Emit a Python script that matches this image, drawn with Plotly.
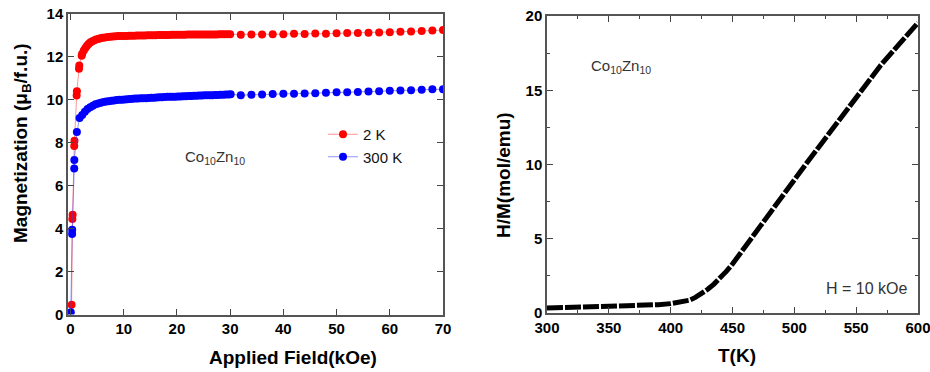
import plotly.graph_objects as go

# ---------------- data: left panel (M vs H) ----------------
field_2k = [0.2, 0.35, 0.4, 0.7, 0.75, 1.15, 1.2, 1.6, 1.65, 2.1, 2.2, 2.5, 2.8, 3.1, 3.4, 3.7,
            4.0, 4.4, 4.8, 5.2, 5.6, 6.0, 6.5, 7.0, 7.5, 8.0, 8.5, 9.0, 9.5,
            10.0, 10.5, 11.0, 11.5, 12.0, 12.5, 13.0, 13.5, 14.0, 14.5, 15.0, 15.5, 16.0, 16.5,
            17.0, 17.5, 18.0, 18.5, 19.0, 19.5, 20.0, 20.5, 21.0, 21.5, 22.0, 22.5, 23.0, 23.5,
            24.0, 24.5, 25.0, 25.5, 26.0, 26.5, 27.0, 27.5, 28.0, 28.5, 29.0, 29.5, 30.0,
            32, 34, 36, 38, 40, 42, 44, 46, 48, 50, 52, 54, 56, 58, 60, 62, 64, 66, 68, 70]
mag_2k = [0.45, 4.45, 4.65, 7.85, 8.1, 10.2, 10.4, 11.45, 11.6, 12.05, 12.15, 12.3, 12.42, 12.52, 12.6, 12.67,
          12.72, 12.77, 12.81, 12.84, 12.87, 12.89, 12.91, 12.93, 12.94, 12.95, 12.96, 12.97, 12.97,
          12.98, 12.98, 12.99, 12.99, 12.99, 13.0, 13.0, 13.0, 13.0, 13.01, 13.01, 13.01, 13.01, 13.02,
          13.02, 13.02, 13.02, 13.02, 13.03, 13.03, 13.03, 13.03, 13.03, 13.03, 13.04, 13.04, 13.04, 13.04,
          13.04, 13.04, 13.05, 13.05, 13.05, 13.05, 13.05, 13.05, 13.06, 13.06, 13.06, 13.06, 13.06,
          13.03, 13.05, 13.05, 13.06, 13.06, 13.08, 13.07, 13.09, 13.08, 13.10, 13.11, 13.11, 13.13, 13.14,
          13.15, 13.17, 13.19, 13.21, 13.23, 13.25]

field_300k = [0.05, 0.3, 0.32, 0.7, 0.72, 1.2, 1.7, 2.2, 2.7, 3.2, 3.7, 4.2, 4.7, 5.2, 5.7, 6.2, 6.7,
              7.2, 7.7, 8.2, 8.7, 9.2, 9.7, 10.2, 10.7, 11.2, 11.7, 12.2, 12.7, 13.2, 13.7, 14.2, 14.7,
              15.2, 15.7, 16.2, 16.7, 17.2, 17.7, 18.2, 18.7, 19.2, 19.7, 20.2, 20.7, 21.2, 21.7, 22.2,
              22.7, 23.2, 23.7, 24.2, 24.7, 25.2, 25.7, 26.2, 26.7, 27.2, 27.7, 28.2, 28.7, 29.2, 29.7, 30.1,
              32, 34, 36, 38, 40, 42, 44, 46, 48, 50, 52, 54, 56, 58, 60, 62, 64, 66, 68, 70]
mag_300k = [0.1, 3.75, 3.95, 6.8, 7.2, 8.5, 9.15, 9.3, 9.45, 9.57, 9.66, 9.73, 9.79, 9.83, 9.87, 9.9, 9.92,
            9.94, 9.96, 9.97, 9.99, 10.0, 10.01, 10.02, 10.03, 10.04, 10.05, 10.06, 10.06, 10.07, 10.08, 10.08, 10.09,
            10.1, 10.1, 10.11, 10.12, 10.12, 10.13, 10.14, 10.14, 10.15, 10.15, 10.16, 10.16, 10.17, 10.17, 10.18,
            10.18, 10.19, 10.19, 10.2, 10.2, 10.21, 10.21, 10.22, 10.22, 10.23, 10.23, 10.24, 10.24, 10.25, 10.25, 10.26,
            10.22, 10.24, 10.25, 10.27, 10.28, 10.29, 10.3, 10.31, 10.33, 10.35, 10.36, 10.37, 10.39, 10.4,
            10.42, 10.44, 10.45, 10.47, 10.49, 10.5]

series_names = ["2 K", "300 K"]

# ---------------- data: right panel (H/M vs T) ----------------
temp_k = [300, 310, 320, 330, 340, 350, 360, 370, 380, 390, 400, 405, 410, 415, 420, 425, 430, 435,
          440, 445, 450, 460, 470, 480, 490, 500, 510, 520, 530, 540, 550, 560, 570, 580, 590, 600]
h_over_m = [0.33, 0.35, 0.37, 0.39, 0.41, 0.43, 0.45, 0.47, 0.5, 0.56, 0.63, 0.68, 0.75, 0.86, 1.05, 1.3,
            1.6, 1.95, 2.35, 2.8, 3.3, 4.45, 5.6, 6.75, 7.9, 9.0, 10.1, 11.2, 12.3, 13.4, 14.55, 15.6,
            16.7, 17.65, 18.6, 19.55]

W, H = 930, 372


def px(x):
    return x / W


def py(y):
    return 1 - y / H


fig = go.Figure()

fig.add_trace(go.Scatter(
    x=field_2k, y=mag_2k, mode="lines+markers", name=series_names[0],
    line=dict(color="rgba(255,60,60,0.55)", width=1),
    marker=dict(color="#ff0000", size=8),
    xaxis="x", yaxis="y"))
fig.add_trace(go.Scatter(
    x=field_300k, y=mag_300k, mode="lines+markers", name=series_names[1],
    line=dict(color="rgba(60,60,255,0.55)", width=1),
    marker=dict(color="#0000ff", size=8),
    xaxis="x", yaxis="y"))
fig.add_trace(go.Scatter(
    x=temp_k, y=h_over_m, mode="lines", showlegend=False,
    line=dict(color="black", width=5, dash="16px,2px"),
    xaxis="x2", yaxis="y2"))

tickfont = dict(family="Liberation Sans, Arial", size=15, color="black", weight="bold")
axis_common = dict(showline=True, linecolor="#555", linewidth=1.5, mirror="ticks",
                   ticks="inside", ticklen=6, tickwidth=1.2, tickcolor="#444",
                   showgrid=False, zeroline=False, tickfont=tickfont, automargin=False,
                   ticklabeloverflow="allow")

fig.update_layout(
    width=W, height=H,
    margin=dict(l=0, r=0, t=0, b=0),
    paper_bgcolor="white", plot_bgcolor="white",
    xaxis=dict(domain=[px(68), px(443)], range=[-0.47, 70], dtick=10, tick0=0,
               anchor="y", **axis_common),
    yaxis=dict(domain=[py(314.5), py(14)], range=[0, 14], dtick=2, tick0=0,
               anchor="x", **axis_common),
    xaxis2=dict(domain=[px(547), px(918)], range=[300, 600], dtick=50, tick0=300,
                anchor="y2", minor=dict(ticks="inside", ticklen=3, dtick=25, tickcolor="#444"),
                **axis_common),
    yaxis2=dict(domain=[py(313), py(16)], range=[0, 20], dtick=5, tick0=0,
                anchor="x2", minor=dict(ticks="inside", ticklen=3, dtick=2.5, tickcolor="#444"),
                **axis_common),
    legend=dict(x=px(323), y=py(118), xanchor="left", yanchor="top",
                bgcolor="rgba(0,0,0,0)", font=dict(family="Liberation Sans, Arial", size=15, color="#111"),
                itemwidth=30, tracegroupgap=0),
    showlegend=True,
)

title_font = dict(family="Liberation Sans, Arial", size=19, color="black", weight="bold")
ann_font = dict(family="Liberation Sans, Arial", size=15, color="#333")

annotations = [
    dict(text="Applied Field(kOe)", x=px(293), y=py(357), font=title_font),
    dict(text="Magnetization (μ<sub>B</sub>/f.u.)", x=px(22), y=py(143), textangle=-90, font=title_font),
    dict(text="T(K)", x=px(737), y=py(355), font=title_font),
    dict(text="H/M(mol/emu)", x=px(503), y=py(175), textangle=-90, font=title_font),
    dict(text="Co<sub>10</sub>Zn<sub>10</sub>", x=px(215), y=py(157), font=ann_font),
    dict(text="Co<sub>10</sub>Zn<sub>10</sub>", x=px(621), y=py(66), font=ann_font),
    dict(text="H = 10 kOe", x=px(866), y=py(288), font=dict(family="Liberation Sans, Arial", size=16, color="#333")),
]
for a in annotations:
    a.update(xref="paper", yref="paper", showarrow=False, xanchor="center", yanchor="middle")
fig.update_layout(annotations=annotations)

fig.write_html("out.html")
